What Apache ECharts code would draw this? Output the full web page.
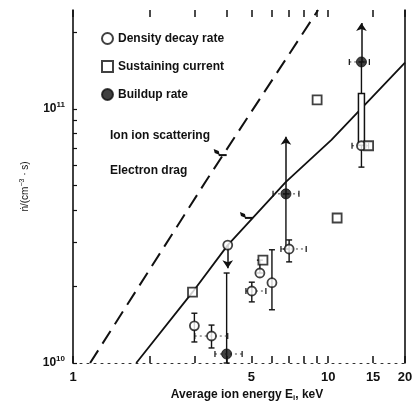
<!DOCTYPE html>
<html><head><meta charset="utf-8">
<script src="https://cdn.jsdelivr.net/npm/echarts@6/dist/echarts.min.js"></script>
<style>html,body{margin:0;padding:0;background:#fff}#c{width:412px;height:402px}</style>
</head><body><div id="c"></div>
<script>
// ---- data ----
const decayEnergy = [2.99, 3.49, 4.04, 5.02, 5.40, 6.02, 7.03, 13.5];
const decayRate   = [1.40e10, 1.277e10, 2.91e10, 1.92e10, 2.26e10, 2.07e10, 2.81e10, 7.16e10];
const sustEnergy  = [2.94, 5.55, 9.05, 10.84, 14.4];
const sustRate    = [1.90e10, 2.54e10, 1.085e11, 3.72e10, 7.16e10];
const buildEnergy = [4.0, 6.83, 13.5];
const buildRate   = [1.085e10, 4.63e10, 1.53e11];
// vertical error bars / connecting lines: [E, low, high]
const vErrors = [
  [2.99, 1.21e10, 1.57e10], [3.49, 1.146e10, 1.41e10], [5.02, 1.74e10, 2.08e10],
  [5.40, 2.26e10, 2.54e10], [6.02, 1.62e10, 2.79e10], [7.03, 2.5e10, 3.05e10],
  [13.5, 5.9e10, 1.53e11], [4.0, 1.0e10, 2.26e10], [6.83, 2.81e10, 4.63e10]
];
// horizontal error bars: [n, Elow, Ehigh]
const hErrors = [
  [1.277e10, 3.0, 4.04], [1.92e10, 4.76, 5.7], [2.81e10, 6.53, 8.2], [7.16e10, 12.4, 14.4],
  [1.085e10, 3.6, 4.6], [4.63e10, 6.08, 7.68], [1.53e11, 12.1, 14.5]
];
// limit arrows: [E, from, to]
const arrows = [[4.04, 2.91e10, 2.36e10], [6.83, 4.63e10, 7.77e10], [13.5, 1.53e11, 2.18e11]];
// tall open box: [E, low, high]
const boxes = [[13.5, 7.2e10, 1.15e11]];
// theory curves
const electronDragE = [1.77, 2.94, 4.04, 6.83, 10.3, 20];
const electronDragN = [1.0e10, 1.90e10, 2.91e10, 5.16e10, 7.55e10, 1.52e11];
const ionIonE = [1.167, 3.34, 9.13];
const ionIonN = [1.0e10, 5.25e10, 2.45e11];
// label flags anchored on the curves: [E, n]
const flags = [[3.93, 6.52e10], [4.98, 3.69e10]];
// axes
const xLabels = [1, 5, 10, 15, 20];
const xTicks = [1, 2, 3, 4, 5, 6, 7, 8, 9, 10, 15, 20];
const yLabels = [1e10, 1e11];
const yTicks = [1e10, 2e10, 3e10, 4e10, 5e10, 6e10, 7e10, 8e10, 9e10, 1e11, 2e11];

const zip = (a, b) => a.map((v, i) => [v, b[i]]);
const FONT = 'Liberation Sans';
const chart = echarts.init(document.getElementById('c'));
const black = '#111';

chart.setOption({
  animation: false,
  backgroundColor: '#fff',
  grid: { left: 73, right: 7, top: 10, bottom: 39, containLabel: false, outerBoundsMode: 'none' },
  legend: {
    orient: 'vertical', left: 96, top: 27, itemGap: 15, itemWidth: 11, itemHeight: 11,
    data: ['Density decay rate', 'Sustaining current', 'Buildup rate'],
    textStyle: { fontFamily: FONT, fontWeight: 'bold', fontSize: 12, color: black }
  },
  xAxis: [{
    type: 'log', min: 1, max: 20, logBase: 10,
    name: 'Average ion energy E{sub|i}, keV', nameLocation: 'middle', nameGap: 24,
    nameTextStyle: { fontFamily: FONT, fontWeight: 'bold', fontSize: 12, color: black, padding: [0, 0, 0, 16],
      rich: { sub: { fontSize: 8, fontWeight: 'bold', verticalAlign: 'bottom', padding: [6, 0, 0, 0], fontFamily: FONT } } },
    axisLine: { show: true, lineStyle: { color: '#333', width: 1, type: [2, 5] } },
    axisTick: { show: true, inside: true, length: 7, customValues: xTicks, lineStyle: { color: black, width: 1.5 } },
    axisLabel: { customValues: xLabels, margin: 8, fontFamily: FONT, fontWeight: 'bold', fontSize: 13, color: black },
    splitLine: { show: false }, minorTick: { show: false }
  }, {
    type: 'log', min: 1, max: 20, position: 'top',
    axisLine: { show: false },
    axisTick: { show: true, inside: true, length: 7, customValues: xTicks, lineStyle: { color: black, width: 1.5 } },
    axisLabel: { show: false }, splitLine: { show: false }
  }],
  yAxis: [{
    type: 'log', min: 1e10, max: 2.45e11, logBase: 10,
    name: 'ṅ/(cm{sup|−3} · s)', nameLocation: 'middle', nameGap: 42, nameRotate: 90,
    nameTextStyle: { fontFamily: FONT, fontSize: 10, color: black,
      rich: { sup: { fontSize: 7, verticalAlign: 'top', padding: [0, 0, 5, 0], fontFamily: FONT } } },
    axisLine: { show: true, lineStyle: { color: black, width: 1.6 } },
    axisTick: { show: true, inside: true, length: 4, customValues: yTicks, lineStyle: { color: black, width: 1.2 } },
    axisLabel: {
      customValues: yLabels, margin: 8,
      formatter: v => '{b|10}{s|' + Math.round(Math.log10(v)) + '}',
      rich: {
        b: { fontFamily: FONT, fontWeight: 'bold', fontSize: 12, color: black, lineHeight: 16 },
        s: { fontFamily: FONT, fontWeight: 'bold', fontSize: 8, color: black, verticalAlign: 'top', lineHeight: 16 }
      }
    },
    splitLine: { show: false }
  }, {
    type: 'log', min: 1e10, max: 2.45e11, position: 'right',
    axisLine: { show: true, lineStyle: { color: black, width: 1.6 } },
    axisTick: { show: false }, axisLabel: { show: false }, splitLine: { show: false }
  }],
  graphic: [
    { type: 'text', left: 110, top: 130, style: { text: 'Ion ion scattering', fontFamily: FONT, fontWeight: 'bold', fontSize: 12, fill: black } },
    { type: 'text', left: 110, top: 165, style: { text: 'Electron drag', fontFamily: FONT, fontWeight: 'bold', fontSize: 12, fill: black } }
  ],
  series: [
    {
      name: 'Ion ion scattering', type: 'line', data: zip(ionIonE, ionIonN), showSymbol: false, z: 2,
      lineStyle: { color: black, width: 2, type: [15, 8] }
    },
    {
      name: 'Electron drag', type: 'line', data: zip(electronDragE, electronDragN), showSymbol: false, z: 2,
      lineStyle: { color: black, width: 1.8 }
    },
    {
      type: 'custom', z: 3, data: vErrors, encode: { x: 0, y: [1, 2] },
      renderItem: (p, api) => {
        const x = api.value(0);
        const a = api.coord([x, api.value(1)]), b = api.coord([x, api.value(2)]);
        const st = { stroke: black, lineWidth: 1.4 };
        return { type: 'group', children: [
          { type: 'line', shape: { x1: a[0], y1: a[1], x2: b[0], y2: b[1] }, style: st },
          { type: 'line', shape: { x1: a[0] - 3, y1: a[1], x2: a[0] + 3, y2: a[1] }, style: st },
          { type: 'line', shape: { x1: b[0] - 3, y1: b[1], x2: b[0] + 3, y2: b[1] }, style: st }
        ] };
      }
    },
    {
      type: 'custom', z: 3, data: hErrors, encode: { y: 0, x: [1, 2] },
      renderItem: (p, api) => {
        const y = api.value(0);
        const a = api.coord([api.value(1), y]), b = api.coord([api.value(2), y]);
        const st = { stroke: black, lineWidth: 1.2 };
        return { type: 'group', children: [
          { type: 'line', shape: { x1: a[0], y1: a[1], x2: b[0], y2: b[1] }, style: { stroke: '#444', lineWidth: 1, lineDash: [2, 3] } },
          { type: 'line', shape: { x1: a[0], y1: a[1] - 3, x2: a[0], y2: a[1] + 3 }, style: st },
          { type: 'line', shape: { x1: b[0], y1: b[1] - 3, x2: b[0], y2: b[1] + 3 }, style: st }
        ] };
      }
    },
    {
      type: 'custom', z: 4, data: boxes, encode: { x: 0, y: [1, 2] },
      renderItem: (p, api) => {
        const x = api.value(0);
        const a = api.coord([x, api.value(1)]), b = api.coord([x, api.value(2)]);
        return { type: 'rect', shape: { x: a[0] - 3, y: b[1], width: 6, height: a[1] - b[1] },
          style: { fill: '#fff', stroke: black, lineWidth: 1.5 } };
      }
    },
    {
      type: 'custom', z: 4, data: flags, encode: { x: 0, y: 1 },
      renderItem: (p, api) => {
        const c = api.coord([api.value(0), api.value(1)]);
        return { type: 'group', children: [
          { type: 'polygon', shape: { points: [[c[0] - 11, c[1] - 7], [c[0] - 6, c[1] - 5], [c[0] - 5, c[1] - 1], [c[0] - 10, c[1] - 3]] }, style: { fill: black } },
          { type: 'line', shape: { x1: c[0] - 6, y1: c[1] - 1, x2: c[0] + 2, y2: c[1] - 1 }, style: { stroke: black, lineWidth: 2 } }
        ] };
      }
    },
    {
      type: 'lines', coordinateSystem: 'cartesian2d', z: 3,
      data: arrows.map(a => ({ coords: [[a[0], a[1]], [a[0], a[2]]] })),
      symbol: ['none', 'arrow'], symbolSize: 8,
      lineStyle: { color: black, width: 1.5, opacity: 1 }
    },
    {
      name: 'Density decay rate', type: 'scatter', data: zip(decayEnergy, decayRate), z: 6,
      symbol: 'circle', symbolSize: 9, itemStyle: { color: '#fff', borderColor: black, borderWidth: 1.8 }
    },
    {
      name: 'Sustaining current', type: 'scatter', data: zip(sustEnergy, sustRate), z: 6,
      symbol: 'rect', symbolSize: 9, itemStyle: { color: '#fff', borderColor: black, borderWidth: 1.8 }
    },
    {
      name: 'Buildup rate', type: 'scatter', data: zip(buildEnergy, buildRate), z: 6,
      symbol: 'circle', symbolSize: 10, itemStyle: { color: black, borderColor: black, borderWidth: 1 }
    }
  ]
});
</script></body></html>
